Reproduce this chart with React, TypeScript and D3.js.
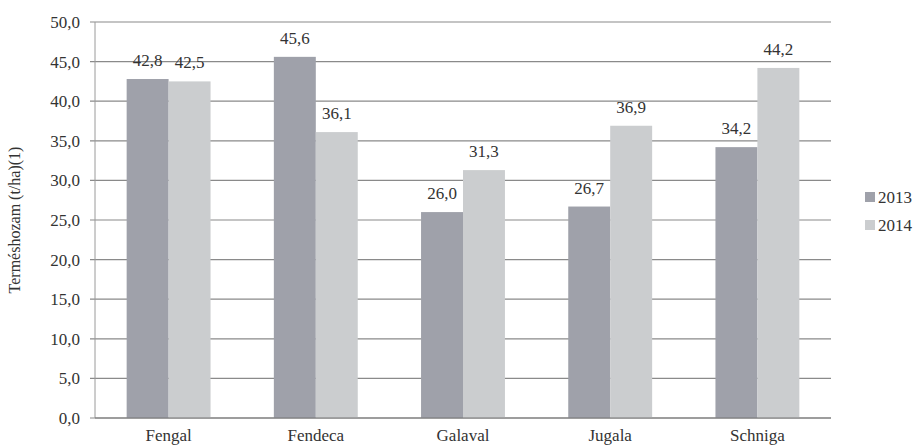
import { useEffect, useRef } from "react";
import * as d3 from "d3";

const categories = ["Fengal", "Fendeca", "Galaval", "Jugala", "Schniga"];
const series2013 = [42.8, 45.6, 26.0, 26.7, 34.2];
const series2014 = [42.5, 36.1, 31.3, 36.9, 44.2];
const seriesNames = ["2013", "2014"];
const yTicks = [0, 5, 10, 15, 20, 25, 30, 35, 40, 45, 50];

const COLORS = ["#9fa1aa", "#cbcdcf"];
const FONT = "Liberation Serif";

export default function App() {
  const svgRef = useRef<SVGSVGElement>(null);

  useEffect(() => {
    if (!svgRef.current) return;
    const width = 916;
    const height = 446;
    const margin = { top: 22, right: 85, bottom: 28, left: 95 };

    const svg = d3.select(svgRef.current);
    svg.selectAll("*").remove();
    svg.attr("width", width).attr("height", height);

    const x = d3
      .scaleBand<string>()
      .domain(categories)
      .range([margin.left, width - margin.right])
      .padding(0);

    const y = d3
      .scaleLinear()
      .domain([0, 50])
      .range([height - margin.bottom, margin.top]);

    const barW = x.bandwidth() * 0.285;
    const fmt = (v: number) => d3.format(".1f")(v).replace(".", ",");

    const g = svg.append("g");

    // gridlines + tick labels
    yTicks.forEach((t) => {
      g.append("line")
        .attr("x1", margin.left - 5)
        .attr("x2", width - margin.right)
        .attr("y1", y(t))
        .attr("y2", y(t))
        .attr("stroke", "#8a8a8a")
        .attr("stroke-width", 1.2);

      g.append("text")
        .attr("x", margin.left - 15)
        .attr("y", y(t))
        .attr("dy", "0.35em")
        .attr("text-anchor", "end")
        .attr("font-family", FONT)
        .attr("font-size", 17)
        .attr("fill", "#333")
        .text(fmt(t));
    });

    // y axis line
    g.append("line")
      .attr("x1", margin.left)
      .attr("x2", margin.left)
      .attr("y1", y(50))
      .attr("y2", y(0))
      .attr("stroke", "#9a9a9a")
      .attr("stroke-width", 1);

    const data = [series2013, series2014];

    data.forEach((vals, si) => {
      categories.forEach((c, i) => {
        const cx = (x(c) ?? 0) + x.bandwidth() / 2;
        const bx = cx - barW + si * barW;
        g.append("rect")
          .attr("x", bx)
          .attr("y", y(vals[i]))
          .attr("width", barW)
          .attr("height", y(0) - y(vals[i]))
          .attr("fill", COLORS[si]);

        g.append("text")
          .attr("x", bx + barW / 2)
          .attr("y", y(vals[i]) - 13)
          .attr("text-anchor", "middle")
          .attr("font-family", FONT)
          .attr("font-size", 17)
          .attr("fill", "#333")
          .text(fmt(vals[i]));
      });
    });

    // bottom axis line
    g.append("line")
      .attr("x1", margin.left)
      .attr("x2", width - margin.right)
      .attr("y1", y(0))
      .attr("y2", y(0))
      .attr("stroke", "#777")
      .attr("stroke-width", 1.2);

    categories.forEach((c) => {
      g.append("text")
        .attr("x", (x(c) ?? 0) + x.bandwidth() / 2)
        .attr("y", height - 5)
        .attr("text-anchor", "middle")
        .attr("font-family", FONT)
        .attr("font-size", 17)
        .attr("fill", "#333")
        .text(c);
    });

    // y label
    g.append("text")
      .attr("transform", "rotate(-90)")
      .attr("x", -y(25))
      .attr("y", 20)
      .attr("text-anchor", "middle")
      .attr("font-family", FONT)
      .attr("font-size", 16)
      .attr("fill", "#333")
      .text("Terméshozam (t/ha)(1)");

    // legend
    seriesNames.forEach((name, i) => {
      const ly = 197 + i * 28;
      g.append("rect")
        .attr("x", 865)
        .attr("y", ly - 5)
        .attr("width", 10)
        .attr("height", 10)
        .attr("fill", COLORS[i]);
      g.append("text")
        .attr("x", 878)
        .attr("y", ly)
        .attr("dy", "0.35em")
        .attr("font-family", FONT)
        .attr("font-size", 17)
        .attr("fill", "#333")
        .text(name);
    });
  }, []);

  return (
    <div style={{ position: "absolute", left: 0, top: 0 }}>
      <svg ref={svgRef} style={{ display: "block" }} />
    </div>
  );
}
